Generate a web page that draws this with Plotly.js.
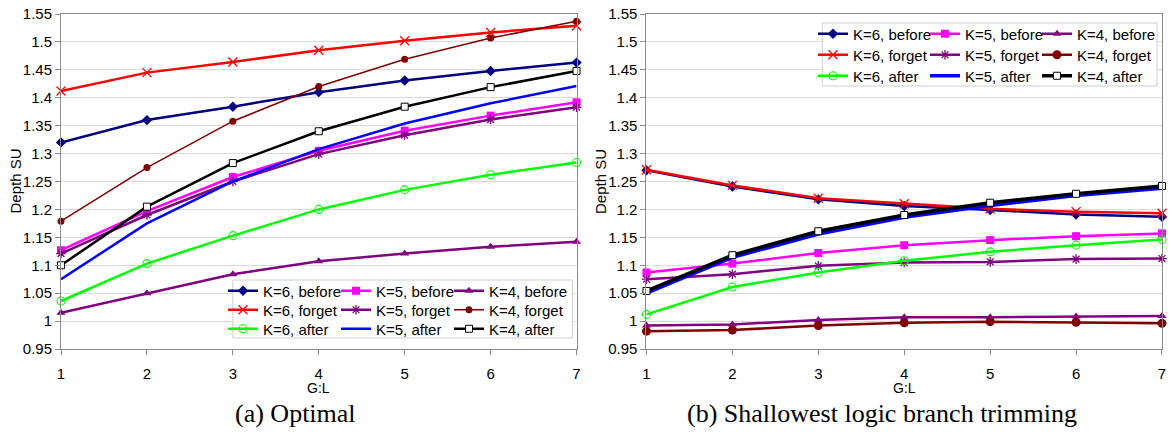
<!DOCTYPE html>
<html>
<head>
<meta charset="utf-8">
<script src="https://cdn.plot.ly/plotly-3.0.1.min.js"></script>
<style>
  html, body { margin: 0; padding: 0; background: #fff; }
  #chart { width: 1173px; height: 440px; }
</style>
</head>
<body>
<div id="chart"></div>
<script>
// ---- data ----
const gl = [1, 2, 3, 4, 5, 6, 7];
const xTickLabels = ['1', '2', '3', '4', '5', '6', '7'];
const yTicks = [0.95, 1, 1.05, 1.1, 1.15, 1.2, 1.25, 1.3, 1.35, 1.4, 1.45, 1.5, 1.55];
const yTickLabels = ['0.95', '1', '1.05', '1.1', '1.15', '1.2', '1.25', '1.3', '1.35', '1.4', '1.45', '1.5', '1.55'];

// (a) Optimal
const optK6Before = [1.320, 1.360, 1.384, 1.410, 1.431, 1.448, 1.463];
const optK5Before = [1.127, 1.197, 1.258, 1.305, 1.341, 1.368, 1.392];
const optK4Before = [1.015, 1.050, 1.084, 1.107, 1.121, 1.133, 1.142];
const optK6Forget = [1.412, 1.445, 1.464, 1.485, 1.502, 1.517, 1.529];
const optK5Forget = [1.121, 1.190, 1.250, 1.299, 1.333, 1.361, 1.383];
const optK4Forget = [1.179, 1.275, 1.358, 1.420, 1.469, 1.507, 1.537];
const optK6After  = [1.036, 1.103, 1.153, 1.200, 1.235, 1.262, 1.284];
const optK5After  = [1.075, 1.175, 1.250, 1.308, 1.354, 1.390, 1.421];
const optK4After  = [1.100, 1.205, 1.283, 1.340, 1.384, 1.419, 1.448];

// (b) Shallowest logic branch trimming
const slbK6Before = [1.270, 1.241, 1.218, 1.206, 1.199, 1.191, 1.187];
const slbK5Before = [1.087, 1.103, 1.122, 1.136, 1.145, 1.152, 1.157];
const slbK4Before = [0.992, 0.994, 1.002, 1.007, 1.007, 1.008, 1.009];
const slbK6Forget = [1.271, 1.243, 1.220, 1.210, 1.201, 1.196, 1.193];
const slbK5Forget = [1.075, 1.084, 1.099, 1.105, 1.106, 1.111, 1.112];
const slbK4Forget = [0.982, 0.984, 0.992, 0.997, 0.999, 0.998, 0.996];
const slbK6After  = [1.012, 1.061, 1.087, 1.108, 1.124, 1.136, 1.146];
const slbK5After  = [1.050, 1.114, 1.156, 1.186, 1.207, 1.225, 1.238];
const slbK4After  = [1.054, 1.118, 1.161, 1.190, 1.212, 1.228, 1.242];

const seriesNames = [
  'K=6, before', 'K=5, before', 'K=4, before',
  'K=6, forget', 'K=5, forget', 'K=4, forget',
  'K=6, after',  'K=5, after',  'K=4, after'
];
const captions = ['(a) Optimal', '(b) Shallowest logic branch trimming'];
const axisTitleX = 'G:L';
const axisTitleY = 'Depth SU';

// ---- styles ----
function styleFor(i, right) {
  const s = [
    {color: '#000080', width: 2.5, marker: {symbol: 'diamond', size: 8, color: '#000080'}},
    {color: '#ff00ff', width: 2.5, marker: {symbol: 'square', size: 8, color: '#ff00ff'}},
    {color: '#800080', width: 2.5, marker: {symbol: 'triangle-up', size: 8, color: '#800080'}},
    {color: '#ff0000', width: 2.5, marker: {symbol: 'x-thin-open', size: 9, color: '#ff0000', line: {color: '#ff0000', width: 1.3}}},
    {color: '#800080', width: 2.5, marker: {symbol: 'asterisk-open', size: 8, color: '#800080', line: {color: '#800080', width: 1.3}}},
    {color: '#800000', width: right ? 2.5 : 1.5, marker: {symbol: 'circle', size: right ? 9 : 7, color: '#800000'}},
    {color: '#00ff00', width: 2.5, marker: {symbol: 'circle-open', size: 8, color: '#00ff00', line: {color: '#00ff00', width: 1.1}}},
    {color: '#0000ff', width: right ? 3.5 : 2.5, marker: {symbol: 'circle', size: 1, opacity: 0}, mode: 'lines'},
    {color: '#000000', width: right ? 3.5 : 2.5, marker: {symbol: 'square', size: 7, color: '#ffffff', line: {color: '#000000', width: 1}}}
  ];
  return s[i];
}

const optSeries = [optK6Before, optK5Before, optK4Before, optK6Forget, optK5Forget, optK4Forget, optK6After, optK5After, optK4After];
const slbSeries = [slbK6Before, slbK5Before, slbK4Before, slbK6Forget, slbK5Forget, slbK4Forget, slbK6After, slbK5After, slbK4After];

const traces = [];
function addTraces(series, right) {
  series.forEach(function (vals, i) {
    const st = styleFor(i, right);
    const row = Math.floor(i / 3); // 0 before, 1 forget, 2 after
    const col = i % 3;
    const legendId = right ? ['legend4', 'legend5', 'legend6'][row] : ['legend', 'legend2', 'legend3'][row];
    const t = {
      type: 'scatter',
      x: gl,
      y: vals,
      name: seriesNames[i],
      mode: st.mode || 'lines+markers',
      line: {color: st.color, width: st.width},
      marker: st.marker,
      cliponaxis: false,
      xaxis: right ? 'x2' : 'x',
      yaxis: right ? 'y2' : 'y',
      legend: legendId,
      showlegend: true
    };
    if (col === 2) t.legendwidth = 82;
    traces.push(t);
  });
}
addTraces(optSeries, false);
addTraces(slbSeries, true);

// ---- layout ----
const W = 1173, H = 440;
const M = {l: 61, r: 10, t: 14, b: 91};
const PW = W - M.l - M.r, PH = H - M.t - M.b;
const px = (x) => (x - M.l) / PW;
const py = (y) => (H - M.b - y) / PH;

const baseFont = {family: 'Liberation Sans, Arial, sans-serif', size: 15, color: '#000'};

function xAxis(domain, anchor) {
  return {
    domain: domain, anchor: anchor,
    range: [1, 7], tickvals: gl, ticktext: xTickLabels,
    showgrid: false, zeroline: false,
    showline: true, linecolor: '#8c8c8c', linewidth: 1, mirror: true,
    ticks: 'outside', ticklen: 5, tickcolor: '#8c8c8c',
    ticklabelstandoff: 6,
    tickfont: baseFont
  };
}
function yAxis(anchor) {
  return {
    anchor: anchor, domain: [0, 1],
    range: [0.95, 1.55], tickvals: yTicks, ticktext: yTickLabels,
    showgrid: true, gridcolor: '#dadada', gridwidth: 1, zeroline: false,
    showline: true, linecolor: '#8c8c8c', linewidth: 1, mirror: true,
    ticks: 'outside', ticklen: 5, tickcolor: '#8c8c8c',
    tickfont: baseFont
  };
}

function legendRow(x, y, ew) {
  return {
    orientation: 'h', x: x, y: y, xanchor: 'left', yanchor: 'middle',
    entrywidth: ew, entrywidthmode: 'pixels',
    bgcolor: 'rgba(0,0,0,0)', borderwidth: 0,
    font: {family: 'Liberation Sans, Arial, sans-serif', size: 15, color: '#000'},
    itemclick: false, itemdoubleclick: false, traceorder: 'normal'
  };
}

const layout = {
  width: W, height: H,
  margin: M,
  paper_bgcolor: '#fff', plot_bgcolor: '#fff',
  font: baseFont,
  xaxis: xAxis([0, px(577)], 'y'),
  yaxis: yAxis('x'),
  xaxis2: xAxis([px(647), 1], 'y2'),
  yaxis2: yAxis('x2'),
  legend:  legendRow(px(223), py(291), 68),
  legend2: legendRow(px(223), py(310), 68),
  legend3: legendRow(px(223), py(329), 68),
  legend4: legendRow(px(813), py(34), 67),
  legend5: legendRow(px(813), py(55), 67),
  legend6: legendRow(px(813), py(76), 67),
  shapes: [
    {type: 'rect', xref: 'paper', yref: 'paper', x0: px(233), x1: px(573), y0: py(338), y1: py(280),
     line: {color: '#cfcfcf', width: 1}, fillcolor: '#ffffff', layer: 'above'},
    {type: 'rect', xref: 'paper', yref: 'paper', x0: px(823), x1: px(1158), y0: py(86), y1: py(23),
     line: {color: '#cfcfcf', width: 1}, fillcolor: '#ffffff', layer: 'above'}
  ],
  annotations: [
    {text: axisTitleY, xref: 'paper', yref: 'paper', x: px(15), y: 0.5, textangle: -90,
     showarrow: false, xanchor: 'center', yanchor: 'middle', font: baseFont},
    {text: axisTitleY, xref: 'paper', yref: 'paper', x: px(601), y: 0.5, textangle: -90,
     showarrow: false, xanchor: 'center', yanchor: 'middle', font: baseFont},
    {text: axisTitleX, xref: 'x', yref: 'paper', x: 4, y: py(388),
     showarrow: false, xanchor: 'center', yanchor: 'middle', font: Object.assign({}, baseFont, {size: 14})},
    {text: axisTitleX, xref: 'x2', yref: 'paper', x: 4, y: py(388),
     showarrow: false, xanchor: 'center', yanchor: 'middle', font: Object.assign({}, baseFont, {size: 14})},
    {text: captions[0], xref: 'paper', yref: 'paper', x: px(296), y: py(414),
     showarrow: false, xanchor: 'center', yanchor: 'middle',
     font: {family: 'Liberation Serif, Times New Roman, serif', size: 26, color: '#000'}},
    {text: captions[1], xref: 'paper', yref: 'paper', x: px(883), y: py(414),
     showarrow: false, xanchor: 'center', yanchor: 'middle',
     font: {family: 'Liberation Serif, Times New Roman, serif', size: 26, color: '#000'}}
  ]
};

Plotly.newPlot('chart', traces, layout, {displayModeBar: false, staticPlot: true});
</script>
</body>
</html>
